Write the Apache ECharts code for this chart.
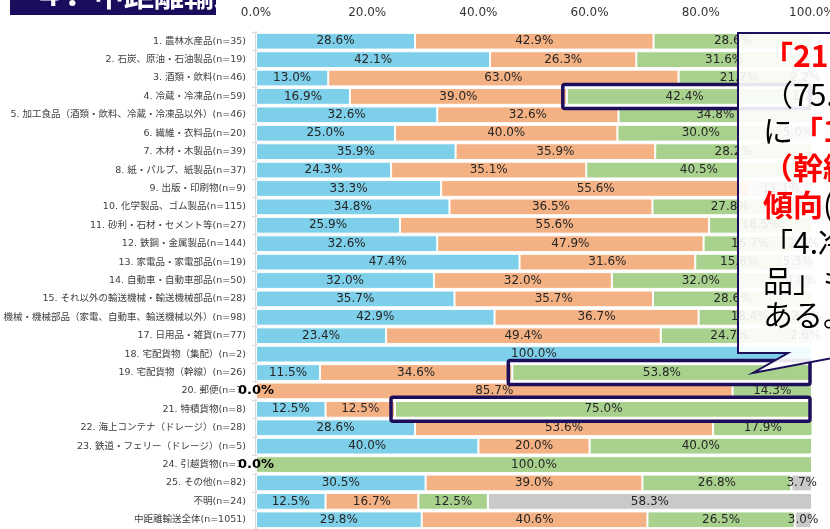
<!DOCTYPE html>
<html>
<head>
<meta charset="utf-8">
<script src="https://cdn.jsdelivr.net/npm/echarts@6/dist/echarts.min.js"></script>
<style>
html, body { margin: 0; padding: 0; background: #fff; }
#main { width: 830px; height: 529px; }
</style>
</head>
<body>
<div id="main"></div>
<script>
var categories = [
  '1. 農林水産品(n=35)',
  '2. 石炭、原油・石油製品(n=19)',
  '3. 酒類・飲料(n=46)',
  '4. 冷蔵・冷凍品(n=59)',
  '5. 加工食品（酒類・飲料、冷蔵・冷凍品以外）(n=46)',
  '6. 繊維・衣料品(n=20)',
  '7. 木材・木製品(n=39)',
  '8. 紙・パルプ、紙製品(n=37)',
  '9. 出版・印刷物(n=9)',
  '10. 化学製品、ゴム製品(n=115)',
  '11. 砂利・石材・セメント等(n=27)',
  '12. 鉄鋼・金属製品(n=144)',
  '13. 家電品・家電部品(n=19)',
  '14. 自動車・自動車部品(n=50)',
  '15. それ以外の輸送機械・輸送機械部品(n=28)',
  '16. 機械・機械部品（家電、自動車、輸送機械以外）(n=98)',
  '17. 日用品・雑貨(n=77)',
  '18. 宅配貨物（集配）(n=2)',
  '19. 宅配貨物（幹線）(n=26)',
  '20. 郵便(n=7)',
  '21. 特積貨物(n=8)',
  '22. 海上コンテナ（ドレージ）(n=28)',
  '23. 鉄道・フェリー（ドレージ）(n=5)',
  '24. 引越貨物(n=1)',
  '25. その他(n=82)',
  '不明(n=24)',
  '中距離輸送全体(n=1051)'
];
var blueValues   = [28.6, 42.1, 13.0, 16.9, 32.6, 25.0, 35.9, 24.3, 33.3, 34.8, 25.9, 32.6, 47.4, 32.0, 35.7, 42.9, 23.4, 100.0, 11.5, 0.0, 12.5, 28.6, 40.0, 0.0, 30.5, 12.5, 29.8];
var orangeValues = [42.9, 26.3, 63.0, 39.0, 32.6, 40.0, 35.9, 35.1, 55.6, 36.5, 55.6, 47.9, 31.6, 32.0, 35.7, 36.7, 49.4, 0, 34.6, 85.7, 12.5, 53.6, 20.0, 0, 39.0, 16.7, 40.6];
var greenValues  = [28.6, 31.6, 21.7, 42.4, 34.8, 30.0, 28.2, 40.5, 0, 27.8, 18.5, 16.7, 15.8, 32.0, 28.6, 18.4, 24.7, 0, 53.8, 14.3, 75.0, 17.9, 40.0, 100.0, 26.8, 12.5, 26.5];
var grayValues   = [0, 0, 2.2, 1.7, 0, 5.0, 0, 0, 11.1, 0.9, 0, 2.8, 5.3, 4.0, 0, 2.0, 2.6, 0, 0, 0, 0, 0, 0, 0, 3.7, 58.3, 3.0];
var xTicks = [0, 20, 40, 60, 80, 100];
var highlightRows = [3, 18, 20];

var chart = echarts.init(document.getElementById('main'));

function pctLabel(p) {
  if (p.value > 0 || p.seriesIndex === 0) return p.value.toFixed(1) + '%';
  return '';
}

var blueData = blueValues.map(function (v) {
  if (v === 0) {
    return { value: v, label: { color: '#000', fontSize: 13, fontWeight: 'bold' } };
  }
  return v;
});

function makeSeries(name, data, color) {
  return {
    name: name,
    type: 'bar',
    stack: 'total',
    data: data,
    barCategoryGap: '9%',
    itemStyle: { color: color, borderColor: '#fff', borderWidth: 1 },
    label: {
      show: true,
      position: 'inside',
      formatter: pctLabel,
      color: '#262626',
      fontSize: 12,
      fontFamily: 'DejaVu Sans'
    },
    emphasis: { disabled: true }
  };
}

var option = {
  animation: false,
  grid: { left: 256, right: 18, top: 32, bottom: 0, containLabel: false, outerBoundsMode: 'none' },
  xAxis: {
    type: 'value',
    position: 'top',
    min: 0,
    max: 100,
    interval: 20,
    axisLine: { show: false },
    axisTick: { show: false },
    splitLine: { show: false },
    axisLabel: {
      margin: 13,
      color: '#333',
      fontSize: 12,
      fontFamily: 'DejaVu Sans',
      formatter: function (v) { return v.toFixed(1) + '%'; }
    }
  },
  yAxis: {
    type: 'category',
    inverse: true,
    data: categories,
    axisLine: { show: true, lineStyle: { color: '#d9d9d9', width: 2 } },
    axisTick: { show: true, length: 4, lineStyle: { color: '#d9d9d9' } },
    axisLabel: {
      margin: 10,
      color: '#404040',
      fontSize: 9.5,
      fontFamily: '"DejaVu Sans", "Noto Sans CJK JP"'
    }
  },
  series: [
    makeSeries('増加', blueData, '#7ecfea'),
    makeSeries('横ばい', orangeValues, '#f4b183'),
    makeSeries('減少', greenValues, '#a9d18e'),
    makeSeries('無回答', grayValues, '#c9c9c9')
  ]
};
chart.setOption(option);

// annotation boxes around the highlighted green segments
var graphics = [];
highlightRows.forEach(function (i) {
  var start = blueValues[i] + orangeValues[i];
  var p0 = chart.convertToPixel({ xAxisIndex: 0, yAxisIndex: 0 }, [start, i]);
  var p1 = chart.convertToPixel({ xAxisIndex: 0, yAxisIndex: 0 }, [100, i]);
  graphics.push({
    type: 'rect',
    z: 10,
    shape: { x: p0[0] - 4, y: p0[1] - 12, width: p1[0] - p0[0] + 2, height: 24, r: 2 },
    style: { fill: 'none', stroke: '#1d0e5c', lineWidth: 3.5 }
  });
});

// callout box (semi-transparent white)
graphics.push({
  type: 'polygon',
  z: 20,
  shape: { points: [[738, 33], [1000, 33], [1000, 353], [860, 353], [753, 373], [788, 353], [738, 353]] },
  style: { fill: 'rgba(255,255,255,0.9)', stroke: '#1d0e5c', lineWidth: 2 }
});

var calloutFont = 'Noto Sans CJK JP';
var calloutLines = [
  '{r|「21.特積貨物」}',
  '（75.0%）が最も高く',
  'に{r|「19.宅配貨物}',
  '{r|（幹線）」で減少}',
  '{r|傾向}(53.8%)',
  '「4.冷蔵・冷凍',
  '品」も減少傾向に',
  'ある。'
];
var calloutY = [56, 95, 131, 168, 205, 243, 281, 315];
calloutLines.forEach(function (t, k) {
  graphics.push({
    type: 'text',
    z: 21,
    x: 763,
    y: calloutY[k],
    style: {
      text: t,
      fill: '#000',
      fontSize: 30,
      fontFamily: calloutFont,
      verticalAlign: 'middle',
      rich: {
        r: { fill: '#ff0000', fontSize: 30, fontWeight: 'bold', fontFamily: calloutFont }
      }
    }
  });
});

// title banner (cut off at top)
graphics.push({
  type: 'rect',
  z: 20,
  shape: { x: 10, y: -2, width: 206, height: 17 },
  style: { fill: '#1b0c5e' }
});
graphics.push({
  type: 'text',
  z: 21,
  x: 34,
  y: -20,
  style: {
    text: '４．中距離輸送',
    fill: '#fff',
    fontSize: 30,
    fontWeight: 'bold',
    fontFamily: calloutFont,
    verticalAlign: 'top'
  }
});

chart.setOption({ graphic: graphics });
</script>
</body>
</html>
